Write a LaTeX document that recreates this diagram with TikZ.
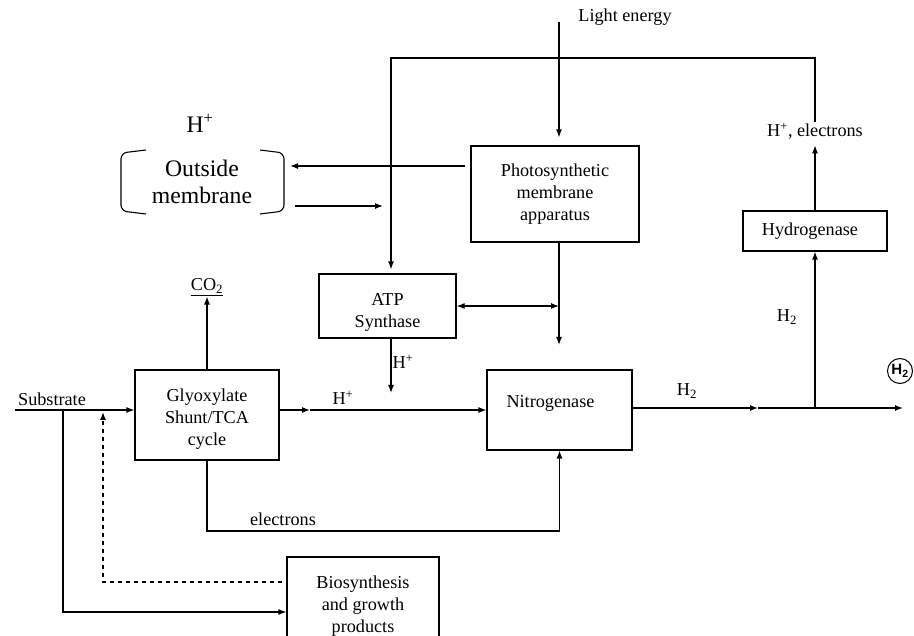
\documentclass[tikz,border=0pt]{standalone}
\usepackage{fontspec}
\setmainfont{Liberation Serif}
\newfontfamily\sansbold{Liberation Sans}
\usetikzlibrary{arrows.meta}

\begin{document}
\begin{tikzpicture}[x=1pt,y=-1pt,font=\fontsize{18.2}{22}\selectfont]
%%%%%%%%%%%%%%%%%%%%%%%%%%%%%%%%%%%%%%%%%%%%%%%%%%%%%%%%
% STYLE
\tikzstyle{box}=[rectangle,draw,line width=1.2pt,align=center,inner sep=0pt]
\tikzstyle{txt}=[inner sep=1pt]
\tikzstyle{big}=[font=\fontsize{23.7}{27}\selectfont]

\tikzset{link/.style={-{Latex[length=8pt,width=6pt]},line width=1.2pt}}
\tikzset{dlink/.style={{Latex[length=8pt,width=6pt]}-{Latex[length=8pt,width=6pt]},line width=1.2pt}}
\tikzset{wire/.style={line width=1.1pt}}

\useasboundingbox (0,0) rectangle (914,636);

%%%%%%%%%%%%%%%%%%%%%%%%%%%%%%%%%%%%%%%%%%%%%%%%%%%%%%%%
% NODES
\node[box,minimum width=168pt,minimum height=96pt] (photo) at (555,194) {Photosynthetic\\membrane\\apparatus};
\node[box,minimum width=144pt,minimum height=40pt,label={[xshift=-5pt]center:Hydrogenase}] (hydro) at (815,231) {};
\node[box,minimum width=137pt,minimum height=64pt,label={[align=center,yshift=-6pt]center:ATP\\Synthase}] (atp) at (387.5,306) {};
\node[box,minimum width=144pt,minimum height=90pt,label={[align=center,yshift=-4pt]center:Glyoxylate\\Shunt/TCA\\cycle}] (glyox) at (207,415) {};
\node[box,minimum width=145pt,minimum height=80pt,label={[xshift=-9pt,yshift=7pt]center:Nitrogenase}] (nitro) at (559.5,410) {};
\node[box,minimum width=152pt,minimum height=98pt] (bio) at (363,606) {Biosynthesis\\and growth\\products};

\node[txt] (light) at (625,17) {Light energy};
\node[txt] (hel) at (815,131) {H\textsuperscript{+}, electrons};
\node[txt,big] (hplus) at (200,123) {H\textsuperscript{+}};
\node[txt,big,align=center] (outside) at (202,182) {Outside\\membrane};
\node[txt] (co2) at (207,287) {\underline{CO\textsubscript{2}}};
\node[txt] (hatp) at (403,362) {H\textsuperscript{+}};
\node[txt] (hgly) at (343,398) {H\textsuperscript{+}};
\node[txt] (subs) at (52,399) {Substrate};
\node[txt] (elec) at (283,519) {electrons};
\node[txt] (hnit) at (687,391) {H\textsubscript{2}};
\node[txt] (hhyd) at (787,317) {H\textsubscript{2}};
\node[circle,draw,line width=1pt,inner sep=0pt,minimum size=25pt,font=\sansbold\bfseries\fontsize{15}{15}\selectfont] (htwo) at (900,371) {H\textsubscript{2}};

\coordinate (lt) at (559,22);
\coordinate (fb) at (391,58);
\coordinate (pm) at (290,166);
\coordinate (om1) at (295,206);
\coordinate (om2) at (383,206);
\coordinate (pv) at (559,345);
\coordinate (atpd) at (391,393);
\coordinate (sub) at (15,410);
\coordinate (gm) at (310,410);
\coordinate (nm) at (758,408);
\coordinate (hj) at (815,408);
\coordinate (hend) at (903,408);
\coordinate (ec) at (207,531);
\coordinate (sd) at (63,410);
\coordinate (sb) at (63,612);
\coordinate (dv) at (103,582);

% membrane bracket
\draw[wire,rounded corners=6pt] (146,150) -- (121,153) -- (121,211) -- (146,214);
\draw[wire,rounded corners=6pt] (260,150) -- (284,153) -- (284,211) -- (260,214);

%%%%%%%%%%%%%%%%%%%%%%%%%%%%%%%%%%%%%%%%%%%%%%%%%%%%%%%%
% LINKS
\draw[link,shorten >=8pt] (lt) -- (lt |- photo.north);
\draw[link,shorten >=4pt] (hel.north) |- (fb) -- (fb |- atp.north);
\draw[link,shorten >=5pt] (hydro.north) -- (hel.south);
\draw[link,shorten <=5pt] (pm -| photo.west) -- (pm);
\draw[link] (om1) -- (om2);
\draw[link] (pv |- photo.south) -- (pv);
\draw[dlink] (atp.east) -- (atp.east -| pv);
\draw[link] (atpd |- atp.south) -- (atpd);
\draw[link] (glyox.north) -- (co2.south);
\draw[link] (sub) -- (sub -| glyox.west);
\draw[link] (gm -| glyox.east) -- (gm);
\draw[link] (gm) -- (gm -| nitro.west);
\draw[link] (nm -| nitro.east) -- (nm);
\draw[link] (nm) -- (hend);
\draw[link] (hj) -- (hydro.south);
\draw[link] (glyox.south) -- (ec) -| (nitro.south);
\draw[link] (sd) -- (sb) -- (sb -| bio.west);
\draw[link,dash pattern=on 4pt off 4pt,shorten <=4pt,shorten >=2pt] (dv -| bio.west) -- (dv) -- (dv |- sub);

\end{tikzpicture}
\end{document}
